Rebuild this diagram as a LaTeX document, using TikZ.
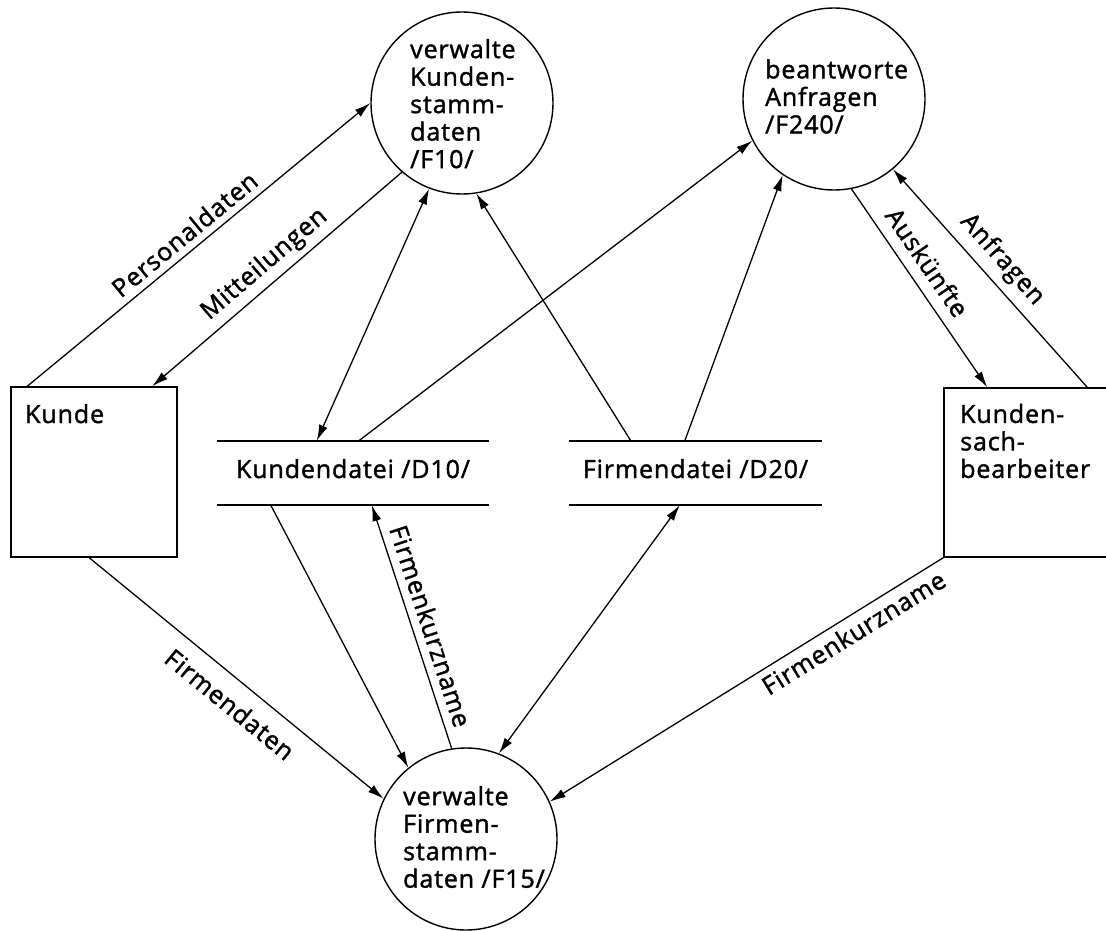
\documentclass[tikz,border=0pt]{standalone}
\usepackage{fontspec}
\setmainfont{Open Sans}[FakeBold=1.5, LetterSpace=3.5]
\usetikzlibrary{arrows.meta,calc}

\begin{document}
\begin{tikzpicture}[x=1pt,y=-1pt,
  every node/.style={font=\fontsize{25}{27.5}\selectfont, inner sep=0pt},
  proc/.style={draw, circle, line width=1.4pt, minimum size=182pt},
  ext/.style={draw, rectangle, line width=1.5pt},
  store/.style={rectangle, minimum height=64pt, text height=18pt, text depth=8pt},
  flow/.style={line width=1.3pt, -{Latex[length=16pt,width=9pt]}},
  biflow/.style={line width=1.3pt, {Latex[length=16pt,width=9pt]}-{Latex[length=16pt,width=9pt]}},
  lbl/.style={sloped, inner sep=4pt},
]
% page frame
\clip (0,0) rectangle (1106,931);
\fill[white] (0,0) rectangle (1106,931);

% processes
\node[proc] (f10) at (462,103) {};
\node[anchor=west, align=left] (f10t) at (410,103.7) {verwalte\\Kunden-\\stamm-\\daten\\/F10/};
\node[proc] (f240) at (834,99) {};
\node[anchor=west, align=left] (f240t) at (765,96.5) {beantworte\\Anfragen\\/F240/};
\node[proc] (f15) at (466,839) {};
\node[anchor=west, align=left] (f15t) at (403,837) {verwalte\\Firmen-\\stamm-\\daten /F15/};

% external entities
\node[ext, minimum width=166pt, minimum height=170pt] (kunde) at (94,472) {};
\node[anchor=base west] (kundet) at (25,423) {Kunde};
\node[ext, minimum width=176pt, minimum height=169pt] (ksb) at (1032,472.5) {};
\node[anchor=west, align=left] (ksbt) at (960,441) {Kunden-\\sach-\\bearbeiter};

% data stores
\node[store, minimum width=272pt] (kd) at (353,473) {Kundendatei /D10/};
\node[store, minimum width=253pt] (fd) at (695.5,473) {Firmendatei /D20/};
\foreach \s in {kd,fd}{
  \draw[line width=1.5pt] (\s.north west) -- (\s.north east);
  \draw[line width=1.5pt] (\s.south west) -- (\s.south east);
}

% attachment points on boxes and stores
\coordinate (kPers) at ($(kunde.north west)+(17,0)$);
\coordinate (kMit)  at ($(kunde.north west)+(142,0)$);
\coordinate (kFd)   at ($(kunde.south west)+(79,0)$);
\coordinate (ksbA)  at ($(ksb.north west)+(44,0)$);
\coordinate (ksbB)  at ($(ksb.north west)+(144,0)$);
\coordinate (kdA)   at ($(kd.north west)+(100,0)$);
\coordinate (kdB)   at ($(kd.north west)+(142,0)$);
\coordinate (kdC)   at ($(kd.south west)+(54,0)$);
\coordinate (kdD)   at ($(kd.south west)+(155,0)$);
\coordinate (fdA)   at ($(fd.north west)+(62,0)$);
\coordinate (fdB)   at ($(fd.north west)+(116,0)$);
\coordinate (fdC)   at ($(fd.south west)+(111,0)$);

% data flows
\draw[flow] (kPers) -- (f10.180) node[lbl, above, pos=.49, inner sep=7pt] {Personaldaten};
\draw[flow] (f10.229) -- (kMit) node[lbl, above, pos=.50, inner sep=6pt] {Mitteilungen};
\draw[biflow] (f10.249) -- (kdA);
\draw[flow] (fdA) -- (f10.279);
\draw[flow] (kdB) -- (f240.207);
\draw[flow] (fdB) -- (f240.236);
\draw[flow] (f240.281) -- (ksbA) node[lbl, above, pos=.43, inner sep=11pt] {Auskünfte};
\draw[flow] (ksbB) -- (f240.310) node[lbl, above, pos=.52, inner sep=8pt] {Anfragen};
\draw[flow] (kdC) -- (f15.129);
\draw[flow] (f15.99) -- (kdD) node[lbl, above, pos=.48, inner sep=8pt] {Firmenkurzname};
\draw[biflow] (f15.69) -- (fdC);
\draw[flow] (kFd) -- (f15.154) node[lbl, below, pos=.53, inner sep=14pt] {Firmendaten};
\draw[flow] (ksb.south west) -- (f15.24) node[lbl, below, pos=.25, inner sep=6pt] {Firmenkurzname};
\end{tikzpicture}
\end{document}
